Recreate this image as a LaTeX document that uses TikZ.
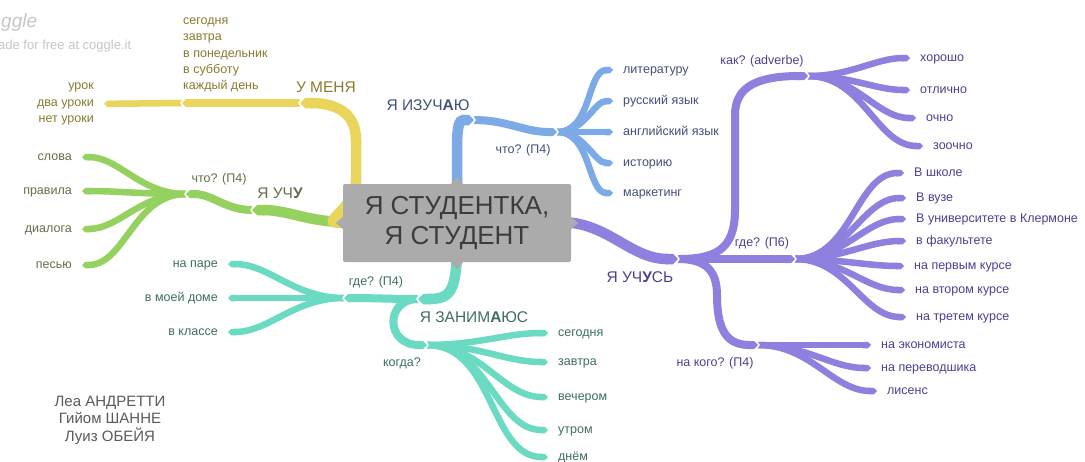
\documentclass[tikz,border=0pt]{standalone}
\usepackage{fontspec}
\setmainfont{Liberation Sans}
\usetikzlibrary{arrows.meta}
\definecolor{ylw}{HTML}{E9D45C}
\definecolor{ylwtx}{HTML}{8A7B2E}
\definecolor{grn}{HTML}{95D15F}
\definecolor{grntx}{HTML}{646F4A}
\definecolor{blu}{HTML}{7BAAE7}
\definecolor{blutx}{HTML}{435079}
\definecolor{pur}{HTML}{8D80DF}
\definecolor{purtx}{HTML}{4B4190}
\definecolor{tea}{HTML}{6BDAC3}
\definecolor{teatx}{HTML}{3E6D64}
\definecolor{boxgray}{HTML}{ABABAB}
\definecolor{boxtx}{HTML}{3C3C3C}
\definecolor{wmgray}{HTML}{C6C6C6}
\definecolor{names}{HTML}{5A5A5A}
\tikzset{
  br/.style={line width=8pt, line cap=butt, -{Triangle Cap}},
  trunk/.style={br, line width=10.5pt},
  twig/.style={br, line width=6.5pt, shorten >=9pt},
  lab/.style={font=\fontsize{12.5}{16.25}\selectfont, inner sep=1pt},
  leaf/.style={lab, text height=8.8pt, text depth=2.6pt},
  big/.style={font=\fontsize{15.5}{18}\selectfont, inner sep=1pt},
  ylab/.style={lab, text=ylwtx},
  glab/.style={leaf, text=grntx},
  blab/.style={leaf, text=blutx},
  plab/.style={leaf, text=purtx},
  tlab/.style={leaf, text=teatx},
  wm/.style={text=wmgray, inner sep=0pt},
  notch/.pic={\draw[white, line width=1.4pt, line join=miter] (-3,-6) -- (1,0) -- (-3,6);}
}
\begin{document}
\begin{tikzpicture}[x=1pt,y=-1pt]
  \fill[white] (0,0) rectangle (1085,461);
  \useasboundingbox (0,0) rectangle (1085,461);

  \node[wm, font=\itshape\fontsize{19}{20}\selectfont, anchor=west] (wlogo) at (1,23) {ggle};
  \node[wm, font=\fontsize{13}{15}\selectfont, anchor=west] (wtext) at (-2,46) {ade for free at coggle.it};

  % yellow
  \node[big, text=ylwtx] (ymenya) at (326,87) {У МЕНЯ};
  \node[ylab, align=left, anchor=west] (ywhen) at (182,55) {сегодня\\завтра\\в понедельник\\в субботу\\каждый день};
  \node[ylab, align=right, anchor=east] (ywhat) at (95,104) {урок\\два уроки\\нет уроки};

  % green
  \node[big, text=grntx] (guchu) at (280,193) {Я УЧ{\bfseries У}};
  \node[glab] (gq) at (219,179) {что? (П4)};
  \node[glab, anchor=east] (slova) at (73,157) {слова};
  \node[glab, anchor=east] (prav) at (73,191) {правила};
  \node[glab, anchor=east] (dial) at (73,229) {диалога};
  \node[glab, anchor=east] (pes) at (73,265) {песью};

  % blue
  \node[big, text=blutx] (bizu) at (428,105) {Я ИЗУЧ{\bfseries А}Ю};
  \node[blab] (bq) at (523,150) {что? (П4)};
  \node[blab, anchor=west] (lit) at (622,70) {литературу};
  \node[blab, anchor=west] (rus) at (622,101) {русский язык};
  \node[blab, anchor=west] (ang) at (622,132) {английский язык};
  \node[blab, anchor=west] (ist) at (622,163) {историю};
  \node[blab, anchor=west] (mrk) at (622,193) {маркетинг};

  % purple
  \node[big, text=purtx] (puch) at (640,277) {Я УЧ{\bfseries У}СЬ};
  \node[plab] (pkak) at (762,61) {как? (adverbe)};
  \node[plab] (pgde) at (762,243) {где? (П6)};
  \node[plab] (pkogo) at (715,363) {на кого? (П4)};
  \node[plab, anchor=west] (xor) at (919,58) {хорошо};
  \node[plab, anchor=west] (otl) at (919,90) {отлично};
  \node[plab, anchor=west] (ochn) at (925,118) {очно};
  \node[plab, anchor=west] (zoch) at (932,146) {зоочно};
  \node[plab, anchor=west] (shk) at (913,173) {В школе};
  \node[plab, anchor=west] (vuz) at (915,198) {В вузе};
  \node[plab, anchor=west] (uni) at (915,219) {В университете в Клермоне};
  \node[plab, anchor=west] (fak) at (915,241) {в факультете};
  \node[plab, anchor=west] (kur1) at (913,266) {на первым курсе};
  \node[plab, anchor=west] (kur2) at (914,290) {на втором курсе};
  \node[plab, anchor=west] (kur3) at (915,317) {на третем курсе};
  \node[plab, anchor=west] (eko) at (880,345) {на экономиста};
  \node[plab, anchor=west] (per) at (880,368) {на переводшика};
  \node[plab, anchor=west] (lis) at (886,391) {лисенс};

  % teal
  \node[big, text=teatx] (tzan) at (474,317) {Я ЗАНИМ{\bfseries А}ЮС};
  \node[tlab] (tgde) at (376,282) {где? (П4)};
  \node[tlab] (tkogda) at (402,363) {когда?};
  \node[tlab, anchor=east] (para) at (219,264) {на паре};
  \node[tlab, anchor=east] (dom) at (219,298) {в моей доме};
  \node[tlab, anchor=east] (kl) at (219,332) {в классе};
  \node[tlab, anchor=west] (seg) at (557,333) {сегодня};
  \node[tlab, anchor=west] (zav) at (557,362) {завтра};
  \node[tlab, anchor=west] (vech) at (557,397) {вечером};
  \node[tlab, anchor=west] (utr) at (557,430) {утром};
  \node[tlab, anchor=west] (dnem) at (557,457) {днём};

  \node[font=\fontsize{15}{17.5}\selectfont, text=names, align=center] (authors) at (110,420) {Леа АНДРЕТТИ\\Гийом ШАННЕ\\Луиз ОБЕЙЯ};

  \coordinate (g0) at (345,222);
  \coordinate (g1) at (252,210);
  \coordinate (g2) at (186,194);
  \coordinate (y0) at (348,222);
  \coordinate (y1) at (300,103);
  \coordinate (y2) at (182,103);
  \coordinate (b0) at (457,200);
  \coordinate (b1) at (474,120);
  \coordinate (b2) at (557,132);
  \coordinate (p0) at (560,222);
  \coordinate (p1) at (678,259);
  \coordinate (p2) at (808,76);
  \coordinate (p3) at (795,259);
  \coordinate (p4) at (758,345);
  \coordinate (t0) at (457,250);
  \coordinate (t1) at (418,299);
  \coordinate (t2) at (344,298);
  \coordinate (t3) at (427,345);

  \draw[grn,trunk] (g0) to[out=180,in=0] (g1);
  \draw[grn,br] (g1) to[out=180,in=0] (g2);
  \foreach \n in {slova,prav,dial,pes} \draw[grn,twig] (g2) to[out=180,in=0] (\n.east);

  \draw[ylw,trunk] (y0) .. controls (310,226) and (356,212) .. (356,180) -- (356,140) .. controls (356,112) and (335,103) .. (y1);
  \draw[ylw,br] (y1) -- (y2);
  \draw[ylw,twig] (y2) -- (ywhat.east);

  \draw[blu,trunk] (b0) -- (457,150) .. controls (457,126) and (459,120) .. (b1);
  \draw[blu,br] (b1) to[out=0,in=180] (b2);
  \foreach \n in {lit,rus,ang,ist,mrk} \draw[blu,twig] (b2) to[out=0,in=180] (\n.west);

  \draw[pur,trunk] (p0) to[out=0,in=180] (p1);
  \draw[pur,br] (p1) .. controls (715,259) and (735,250) .. (735,210) -- (735,115) .. controls (735,85) and (760,76) .. (p2);
  \draw[pur,br] (p1) -- (p3);
  \draw[pur,br] (p1) .. controls (705,259) and (717,270) .. (717,295) .. controls (717,335) and (730,345) .. (p4);
  \foreach \n in {xor,otl,ochn,zoch} \draw[pur,twig] (p2) to[out=0,in=180] (\n.west);
  \foreach \n in {shk,vuz,uni,fak,kur1,kur2,kur3} \draw[pur,twig] (p3) to[out=0,in=180] (\n.west);
  \foreach \n in {eko,per,lis} \draw[pur,twig] (p4) to[out=0,in=180] (\n.west);

  \draw[tea,trunk] (t0) .. controls (456,292) and (450,299) .. (t1);
  \draw[tea,br] (t1) to[out=180,in=0] (t2);
  \draw[tea,br] (t1) .. controls (385,299) and (385,345) .. (t3);
  \foreach \n in {para,dom,kl} \draw[tea,twig] (t2) to[out=180,in=0] (\n.east);
  \foreach \n in {seg,zav,vech,utr,dnem} \draw[tea,twig] (t3) to[out=0,in=180] (\n.west);

  % joints
  \foreach \j in {b1,b2,p1,p2,p3,p4,t3} \pic at (\j) {notch};
  \foreach \j in {y1,y2,g1,g2,t1,t2} \pic[rotate=180] at (\j) {notch};

  \node[fill=boxgray, text=boxtx, rounded corners=2pt, minimum width=228pt, minimum height=78pt,
        align=center, font=\fontsize{26}{30}\selectfont] (ctr) at (457,223) {Я СТУДЕНТКА,\\Я СТУДЕНТ};
  \fill[boxgray] ([xshift=-6pt]ctr.north) -- ([yshift=7pt]ctr.north) -- ([xshift=6pt]ctr.north) -- cycle;
  \fill[boxgray] ([xshift=-6pt]ctr.south) -- ([yshift=-7pt]ctr.south) -- ([xshift=6pt]ctr.south) -- cycle;
  \fill[boxgray] ([yshift=-6pt]ctr.west) -- ([xshift=-7pt]ctr.west) -- ([yshift=6pt]ctr.west) -- cycle;
  \fill[boxgray] ([yshift=-6pt]ctr.east) -- ([xshift=7pt]ctr.east) -- ([yshift=6pt]ctr.east) -- cycle;
\end{tikzpicture}
\end{document}
